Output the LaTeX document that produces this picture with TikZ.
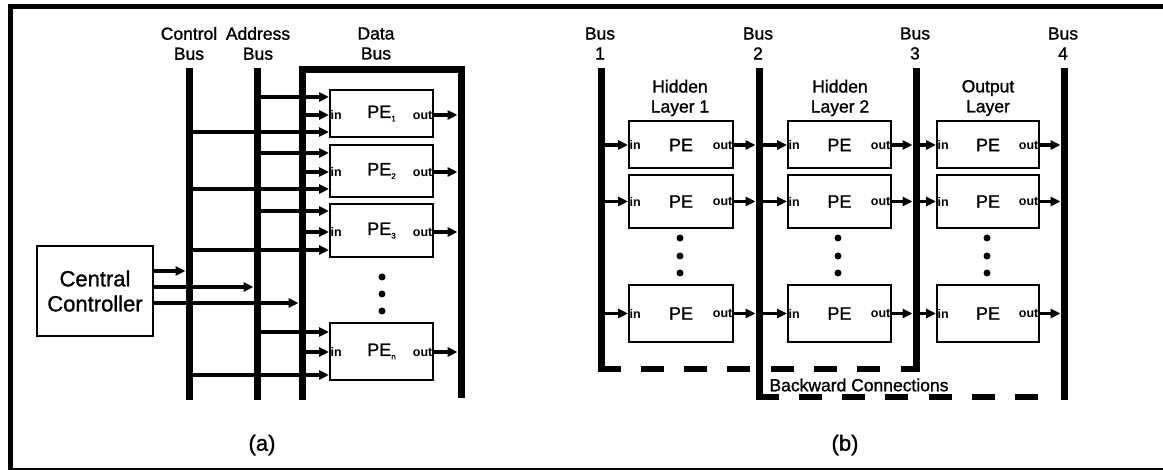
\documentclass[tikz,border=0pt]{standalone}
\usepackage{fontspec}
\setmainfont{Liberation Sans}
\newfontfamily\scanfont{Liberation Sans}[FakeBold=1.2]
\usetikzlibrary{arrows.meta}
\newcommand\pesubs[1]{\raisebox{-3.5pt}{\fontsize{8}{8}\selectfont #1}}
\begin{document}
\begin{tikzpicture}[x=1pt,y=-1pt,
  bus/.style={line width=7pt},
  frame/.style={line width=5pt},
  arr/.style={line width=3.5pt,-{Triangle[length=10pt,width=9pt]}},
  pebox/.style={draw,line width=2pt,inner sep=0pt,font=\scanfont\fontsize{18}{18}\selectfont},
  ccbox/.style={draw,line width=2.5pt,inner sep=0pt,align=center,font=\scanfont\fontsize{22}{25}\selectfont,minimum width=116pt,minimum height=90pt},
  lbl/.style={align=center,font=\scanfont\fontsize{17.5}{20}\selectfont,inner sep=0pt},
  captxt/.style={font=\scanfont\fontsize{22}{22}\selectfont,inner sep=0pt},
  io/.style={font=\bfseries\fontsize{12.5}{12.5}\selectfont,inner sep=1.5pt},
  dotc/.style={circle,fill,inner sep=0pt,minimum size=7pt},
  back/.style={line width=6pt,dash pattern=on 23pt off 20.3pt}]
\useasboundingbox (0,0) rectangle (1163,470);
% outer frame
\draw[frame] (1163,7) -- (10,7) -- (10,470);
\draw[line width=2pt] (10,469) -- (1163,469);

% ================= panel (a) =================
\node[lbl] (cbl) at (189,43.5) {Control\\Bus};
\node[lbl] (abl) at (258,43.5) {Address\\Bus};
\node[lbl] (dbl) at (376,43.5) {Data\\Bus};

\coordinate (cb-t) at (189,68);  \coordinate (cb-b) at (189,400);
\coordinate (ab-t) at (257,68);  \coordinate (ab-b) at (257,400);
\coordinate (db-bl) at (302,400); \coordinate (db-tl) at (302,70);
\coordinate (db-tr) at (461,70);  \coordinate (db-br) at (461,398);
\draw[bus] (cb-t) -- (cb-b);
\draw[bus] (ab-t) -- (ab-b);
\draw[bus,line join=miter] (db-bl) -- (db-tl) -- (db-tr) -- (db-br);

\node[pebox,minimum width=103pt,minimum height=47pt] (pe1) at (381.5,113.5) {PE\pesubs{1}};
\node[pebox,minimum width=103pt,minimum height=52pt] (pe2) at (381.5,171) {PE\pesubs{2}};
\node[pebox,minimum width=103pt,minimum height=53pt] (pe3) at (381.5,230.5) {PE\pesubs{3}};
\node[pebox,minimum width=103pt,minimum height=57pt] (pen) at (381.5,351.5) {PE\pesubs{n}};

\foreach \n/\ya/\yi/\yc in {1/97/115/132, 2/153/172/189, 3/211/232/250, n/332/352/375} {
  \coordinate (a\n) at (257,\ya);
  \coordinate (d\n) at (302,\yi);
  \coordinate (c\n) at (189,\yc);
  \coordinate (o\n) at (457.5,\yi);
  \draw[arr] (a\n) -- (a\n -| pe\n.west);
  \draw[arr] (d\n) -- (d\n -| pe\n.west);
  \draw[arr] (c\n) -- (c\n -| pe\n.west);
  \draw[arr] (o\n -| pe\n.east) -- (o\n);
  \node[io,anchor=west] (in\n) at (d\n -| pe\n.west) {in};
  \node[io,anchor=east] (out\n) at (o\n -| pe\n.east) {out};
}
\node[dotc] (ad1) at (382,277) {};
\node[dotc] (ad2) at (382,294) {};
\node[dotc] (ad3) at (382,311) {};

\node[ccbox] (cc) at (95,291) {Central\\Controller};
\coordinate (cc1) at (185.5,271);
\coordinate (cc2) at (253.5,287);
\coordinate (cc3) at (298.5,303);
\draw[arr] (cc1 -| cc.east) -- (cc1);
\draw[arr] (cc2 -| cc.east) -- (cc2);
\draw[arr] (cc3 -| cc.east) -- (cc3);

\node[captxt] (capa) at (262,445) {(a)};

% ================= panel (b) =================
\node[lbl] (b1l) at (600,43.5) {Bus\\1};
\node[lbl] (b2l) at (758,43.5) {Bus\\2};
\node[lbl] (b3l) at (915,43.5) {Bus\\3};
\node[lbl] (b4l) at (1063,43.5) {Bus\\4};

\node[lbl] (hl1) at (680,98) {Hidden\\Layer 1};
\node[lbl] (hl2) at (840,98) {Hidden\\Layer 2};
\node[lbl] (ol) at (988,98) {Output\\Layer};

\coordinate (bus1-t) at (601,68); \coordinate (bus1-b) at (601,372.5);
\coordinate (bus2-t) at (759,68); \coordinate (bus2-b) at (759,400.5);
\coordinate (bus3-t) at (916,68); \coordinate (bus3-b) at (916,372.5);
\coordinate (bus4-t) at (1064,68); \coordinate (bus4-b) at (1064,400.5);
\draw[bus] (bus1-t) -- (bus1-b);
\draw[bus] (bus2-t) -- (bus2-b);
\draw[bus] (bus3-t) -- (bus3-b);
\draw[bus] (bus4-t) -- (bus4-b);

\coordinate (bk1s) at (597.5,369.5); \coordinate (bk1e) at (919,369.5);
\coordinate (bk2s) at (755.5,397.5); \coordinate (bk2e) at (1039,397.5);
\draw[back] (bk1s) -- (bk1e);
\draw[back] (bk2s) -- (bk2e);
\node[lbl] (bc) at (859,385) {Backward Connections};

\foreach \r/\cy/\h in {1/145/47, 2/201.5/53, 3/313.5/57} {
  \foreach \c/\cx/\w/\bl/\br in {1/681/104/601/759, 2/839.5/103/759/916, 3/988/102/916/1064} {
    \node[pebox,minimum width=\w pt,minimum height=\h pt] (p\c\r) at (\cx,\cy) {PE};
    \coordinate (bl\c\r) at (\bl,\cy);
    \coordinate (br\c\r) at (\br-3.5,\cy);
    \draw[arr] (bl\c\r) -- (p\c\r.west);
    \draw[arr] (p\c\r.east) -- (br\c\r);
    \node[io,anchor=west] (i\c\r) at (p\c\r.west) {in};
    \node[io,anchor=east] (o\c\r) at (p\c\r.east) {out};
  }
}
\foreach \c/\cx in {1/680, 2/838, 3/987} {
  \node[dotc] (bd\c a) at (\cx,238) {};
  \node[dotc] (bd\c b) at (\cx,256) {};
  \node[dotc] (bd\c c) at (\cx,273) {};
}

\node[captxt] (capb) at (845,445) {(b)};
\end{tikzpicture}
\end{document}
